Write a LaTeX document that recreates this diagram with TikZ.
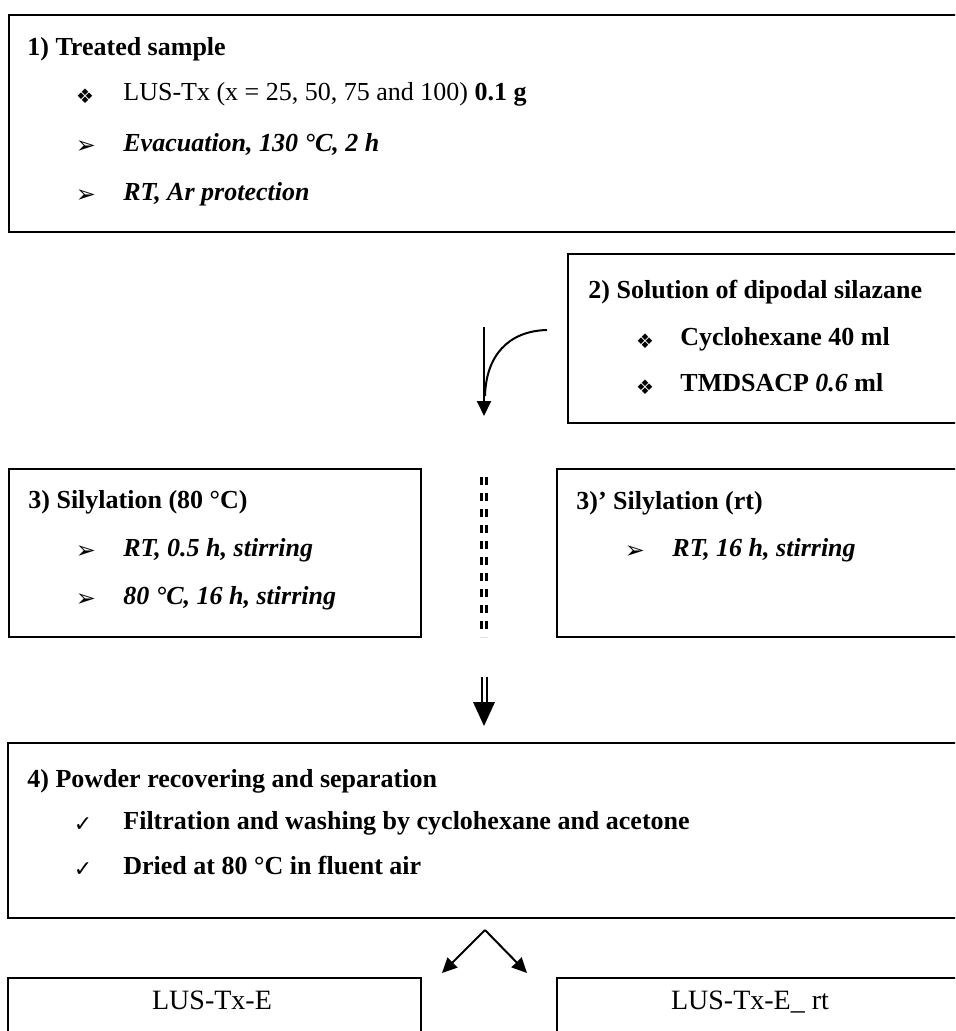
\documentclass[tikz,border=0pt]{standalone}
\usepackage{fontspec}
\setmainfont{Liberation Serif}
\newfontfamily\dejavu{DejaVu Sans}
\usetikzlibrary{arrows.meta}
\tikzset{
  boxst/.style={draw, line width=1pt, anchor=north west, inner sep=0pt},
  txt/.style={anchor=west, inner sep=0pt, font=\fontsize{13}{15}\selectfont, text height=0.68em, text depth=0.22em},
  ttl/.style={txt, font=\fontsize{13}{15}\selectfont\bfseries},
  big/.style={anchor=center, inner sep=0pt, font=\fontsize{14}{16}\selectfont, text height=0.68em, text depth=0.22em},
  bul/.style={anchor=center, inner sep=0pt, font=\dejavu\fontsize{10}{12}\selectfont},
  arw/.style={anchor=center, inner sep=0pt, font=\dejavu\fontsize{12}{14}\selectfont},
  chk/.style={anchor=center, inner sep=0pt, font=\dejavu\fontsize{11}{13}\selectfont},
  conn/.style={line width=1pt},
  tip/.style={-{Triangle[length=7.5pt,width=7pt]}}
}
\begin{document}
\begin{tikzpicture}[x=0.5pt,y=-0.5pt]
\useasboundingbox (0,0) rectangle (955,1031);
\clip (0,0) rectangle (955,1031);
% boxes
\node[boxst, minimum width=480pt, minimum height=108.5pt] (b1) at (8,14) {};
\node[boxst, minimum width=200pt, minimum height=84.5pt] (b2) at (567,253) {};
\node[boxst, minimum width=206pt, minimum height=84pt] (b3) at (8,468) {};
\node[boxst, minimum width=210pt, minimum height=84pt] (b3p) at (556,468) {};
\node[boxst, minimum width=480pt, minimum height=87.5pt] (b4) at (7,742) {};
\node[boxst, minimum width=206.5pt, minimum height=40pt] (b5) at (7,977) {};
\node[boxst, minimum width=210pt, minimum height=40pt] (b6) at (556,977) {};
% box 1
\node[ttl] (t1) at (27,51) {1) Treated sample};
\node[bul] (k11) at (85,96) {❖};
\node[txt] (i11) at (123,96) {LUS-Tx (x = 25, 50, 75 and 100) \textbf{0.1 g}};
\node[arw] (k12) at (86,147) {➢};
\node[txt] (i12) at (123,147) {\textbf{\textit{Evacuation, 130 °C, 2 h}}};
\node[arw] (k13) at (86,196) {➢};
\node[txt] (i13) at (123,196) {\textbf{\textit{RT, Ar protection}}};
% box 2
\node[ttl] (t2) at (588,294) {2) Solution of dipodal silazane};
\node[bul] (k21) at (645,341) {❖};
\node[txt] (i21) at (680,341) {\textbf{Cyclohexane 40 ml}};
\node[bul] (k22) at (645,387) {❖};
\node[txt] (i22) at (680,387) {\textbf{TMDSACP \textit{0.6} ml}};
% box 3
\node[ttl] (t3) at (28,504) {3) Silylation (80 °C)};
\node[arw] (k31) at (86,552) {➢};
\node[txt] (i31) at (123,552) {\textbf{\textit{RT, 0.5 h, stirring}}};
\node[arw] (k32) at (86,600) {➢};
\node[txt] (i32) at (123,600) {\textbf{\textit{80 °C, 16 h, stirring}}};
% box 3'
\node[ttl] (t3p) at (576,505) {3)’ Silylation (rt)};
\node[arw] (k3p) at (635,552) {➢};
\node[txt] (i3p) at (672,552) {\textbf{\textit{RT, 16 h, stirring}}};
% box 4
\node[ttl] (t4) at (27,783) {4) Powder recovering and separation};
\node[chk] (k41) at (83,825) {✓};
\node[txt] (i41) at (123,825) {\textbf{Filtration and washing by cyclohexane and acetone}};
\node[chk] (k42) at (83,870) {✓};
\node[txt] (i42) at (123,870) {\textbf{Dried at 80 °C in fluent air}};
% bottom boxes
\node[big] (l5) at (212,1005) {LUS-Tx-E};
\node[big] (l6) at (750,1005) {LUS-Tx-E\_ rt};
% curved addition arrow
\coordinate (ca) at (484,327);
\coordinate (cb) at (484,416);
\coordinate (cc) at (547,330);
\coordinate (cd) at (485,396);
\draw[conn, tip] (ca) -- (cb);
\draw[conn] (cc) .. controls (508,331) and (486,356) .. (cd);
% dashed double line
\coordinate (da) at (484,477);
\coordinate (db) at (484,637);
\draw[line width=1.5pt, double, double distance=1.2pt, dash pattern=on 4pt off 4pt] (da) -- (db);
% double arrow
\coordinate (ea) at (484,677);
\coordinate (eb) at (484,704);
\coordinate (ec) at (484,726);
\draw[line width=1pt, double, double distance=1.5pt] (ea) -- (eb);
\fill (473,702) -- (495,702) -- (ec) -- cycle;
% split arrows
\coordinate (ap) at (485,930);
\coordinate (al) at (442,973);
\coordinate (ar) at (527,973);
\draw[conn, tip] (ap) -- (al);
\draw[conn, tip] (ap) -- (ar);
\end{tikzpicture}
\end{document}
